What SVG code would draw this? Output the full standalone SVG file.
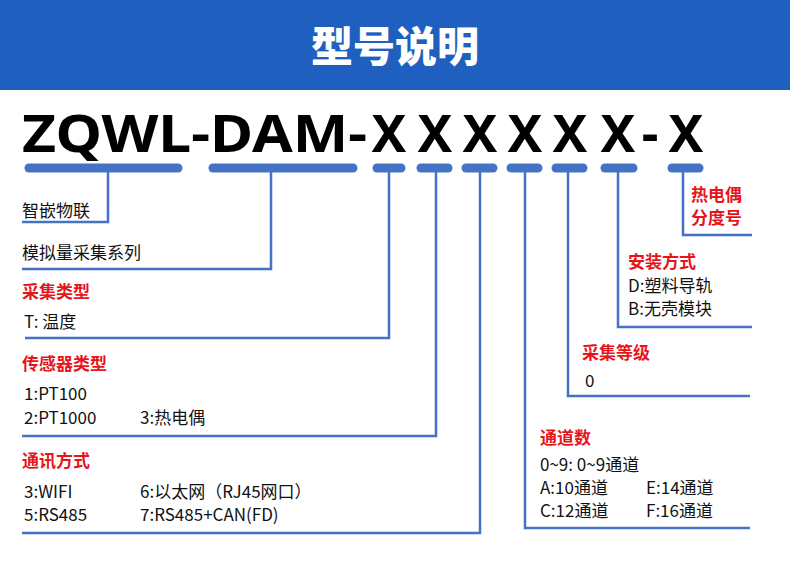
<svg xmlns="http://www.w3.org/2000/svg" width="790" height="567" viewBox="0 0 790 567">
<style>
.t{font-family:"Noto Sans CJK SC","Noto Sans",sans-serif;font-size:17px;fill:#111}
.r{font-family:"Noto Sans CJK SC",sans-serif;font-size:17px;font-weight:bold;fill:#e8141b}
.m{font-family:"Noto Sans","DejaVu Sans",sans-serif;font-size:52px;font-weight:bold;fill:#000}
.bar{stroke:#4472c4;stroke-width:9;stroke-linecap:round}
.ln{fill:none;stroke:#4472c4;stroke-width:2.5}
</style>
<rect width="790" height="567" fill="#fff"/>
<g id="header">
<rect x="0" y="0" width="790" height="90" fill="#1f5fc0"/>
<text x="395" y="62" text-anchor="middle" font-family="Noto Sans CJK SC,sans-serif" font-size="42" font-weight="900" fill="#fff">型号说明</text>
</g>
<g id="model">
<text class="m" x="22" y="152" textLength="345" lengthAdjust="spacingAndGlyphs">ZQWL-DAM-</text>
<text class="m" x="389" y="152" text-anchor="middle">X</text>
<text class="m" x="435" y="152" text-anchor="middle">X</text>
<text class="m" x="480" y="152" text-anchor="middle">X</text>
<text class="m" x="525" y="152" text-anchor="middle">X</text>
<text class="m" x="570" y="152" text-anchor="middle">X</text>
<text class="m" x="618" y="152" text-anchor="middle">X</text>
<text class="m" x="650" y="152" text-anchor="middle">-</text>
<text class="m" x="686" y="152" text-anchor="middle">X</text>
</g>
<g id="connectors">
<line class="bar" x1="29" y1="168" x2="178" y2="168"/>
<line class="bar" x1="213" y1="168" x2="353" y2="168"/>
<line class="bar" x1="377" y1="168" x2="401" y2="168"/>
<line class="bar" x1="421" y1="168" x2="448" y2="168"/>
<line class="bar" x1="466" y1="168" x2="493" y2="168"/>
<line class="bar" x1="511" y1="168" x2="538" y2="168"/>
<line class="bar" x1="556" y1="168" x2="583" y2="168"/>
<line class="bar" x1="605" y1="168" x2="633" y2="168"/>
<line class="bar" x1="672" y1="168" x2="699" y2="168"/>
<polyline class="ln" points="108,168 108,222 22,222"/>
<polyline class="ln" points="271,168 271,269 22,269"/>
<polyline class="ln" points="389,168 389,338 25,338"/>
<polyline class="ln" points="436,168 436,436 22,436"/>
<polyline class="ln" points="480,168 480,533 22,533"/>
<polyline class="ln" points="525,168 525,528 750,528"/>
<polyline class="ln" points="568,168 568,396 750,396"/>
<polyline class="ln" points="618,168 618,327 752,327"/>
<polyline class="ln" points="683,168 683,235 752,235"/>
</g>
<g id="n1"><text class="t" x="22" y="217">智嵌物联</text></g>
<g id="n2"><text class="t" x="22" y="259">模拟量采集系列</text></g>
<g id="n3"><text class="r" x="22" y="298">采集类型</text><text class="t" x="24" y="328">T:  温度</text></g>
<g id="n4"><text class="r" x="22" y="370">传感器类型</text><text class="t" x="24" y="400">1:PT100</text><text class="t" x="24" y="424">2:PT1000</text><text class="t" x="140" y="424">3:热电偶</text></g>
<g id="n5"><text class="r" x="22" y="467">通讯方式</text><text class="t" x="24" y="498">3:WIFI</text><text class="t" x="140" y="498">6:以太网（RJ45网口）</text><text class="t" x="24" y="521">5:RS485</text><text class="t" x="140" y="521">7:RS485+CAN(FD)</text></g>
<g id="n6"><text class="r" x="540" y="444">通道数</text><text class="t" x="540" y="471">0~9: 0~9通道</text><text class="t" x="540" y="494">A:10通道</text><text class="t" x="646" y="494">E:14通道</text><text class="t" x="540" y="517">C:12通道</text><text class="t" x="646" y="517">F:16通道</text></g>
<g id="n7"><text class="r" x="582" y="359">采集等级</text><text class="t" x="585" y="387">0</text></g>
<g id="n8"><text class="r" x="628" y="268">安装方式</text><text class="t" x="628" y="292">D:塑料导轨</text><text class="t" x="628" y="315">B:无壳模块</text></g>
<g id="n9"><text class="r" x="691" y="201">热电偶</text><text class="r" x="691" y="224">分度号</text></g>
</svg>
